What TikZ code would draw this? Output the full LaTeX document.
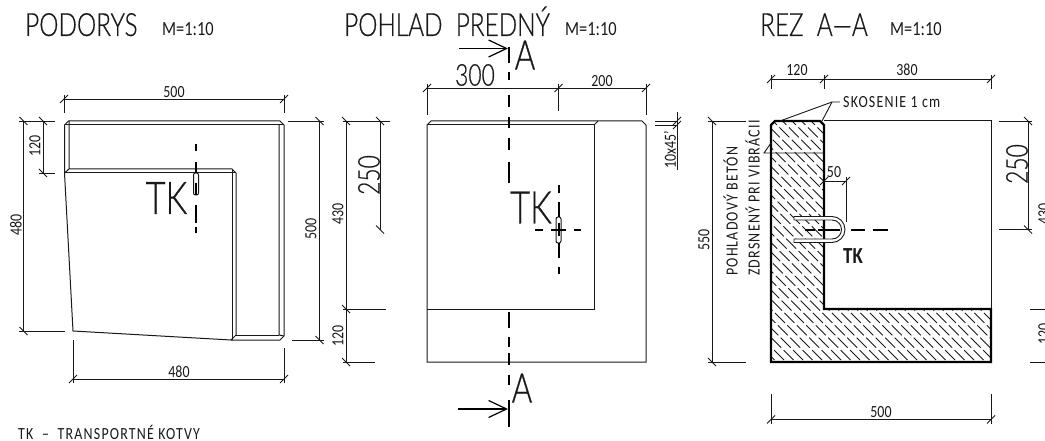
\documentclass[tikz,border=0pt]{standalone}
\usepackage{fontspec}
\usepackage{tikz}
\usetikzlibrary{arrows.meta}
\setmainfont[FakeStretch=0.82]{Carlito}
\newfontfamily\lightfont[FakeStretch=0.76,FakeBold=0.5]{Lato Light}
\newfontfamily\notefont[FakeStretch=0.82,LetterSpace=7]{Carlito}
\newcommand{\sz}[1]{\fontsize{#1}{#1}\selectfont}

\begin{document}
\begin{tikzpicture}[x=1pt,y=-1pt,line join=miter]
            \tikzstyle{thinline}=[draw=black!90,line width=0.9pt]
            \tikzstyle{outline}=[draw=black!90,line width=1pt]
            \tikzstyle{cutline}=[draw=black,line width=2.2pt]
            \tikzstyle{axisline}=[draw=black,line width=2pt]
            \tikzstyle{hatchline}=[draw=black!90,line width=0.8pt,dash pattern=on 14pt off 3.5pt]
            \tikzstyle{cutarrow}=[draw=black,line width=1.2pt,-{Straight Barb[length=18pt,width=17pt]}]
            \tikzstyle{label}=[inner sep=0pt,text=black!90]
            \tikzstyle{dimtext}=[label,font=\sz{17}]
            \tikzstyle{bigdim}=[label,font=\lightfont\sz{30}]
            \tikzstyle{tktext}=[label,font=\lightfont\sz{45}]
            \tikzstyle{cuttext}=[label,font=\lightfont\sz{41}]
            \tikzstyle{title}=[label,anchor=base west,font=\lightfont\sz{32}]
            \tikzstyle{scaletext}=[label,anchor=base west,font=\sz{20}]
            \tikzstyle{notetext}=[label,anchor=base west,font=\notefont\sz{17}]

                \clip (0,0) rectangle (1045,441);

                % titles
                \node[title] (T-1) at (25,36){PODORYS};
                \node[scaletext] (M-1) at (162,36){M=1:10};
                \node[title] (T-2) at (344,36){POHLAD\ \ PREDNÝ};
                \node[scaletext] (M-2) at (565,36){M=1:10};
                \node[title] (T-3) at (760,36){REZ\ \ A—A};
                \node[scaletext] (M-3) at (890,36){M=1:10};
                \node[notetext] (N-1) at (18,439){TK\ \ –\ \ TRANSPORTNÉ KOTVY};

                % podorys
                \draw[outline] (64.5,125) -- (68.5,121) -- (280,121) -- (284,125) -- (284,336) -- (280,340) -- (231,340) -- (73,331) -- (64.5,173) -- cycle;
                \draw[outline] (64.5,125) -- (284,125);
                \draw[outline] (69,121) -- (69,169) -- (232,169) -- (236,173) -- (236,335) -- (231,340);
                \draw[outline] (64.5,173) -- (69,169);
                \draw[outline] (64.5,173) -- (236,173);
                \draw[outline] (232,169) -- (232,340);
                \draw[outline] (279,125) -- (279,335) -- (284,336);
                \draw[outline] (236,335) -- (279,335);

                % kotva v podoryse
                \draw[outline,fill=white,rounded corners=2pt] (193.5,173) rectangle (198.5,195);
                \foreach \from/\to in {144/151, 162/173, 183/195, 205/223, 227/233}
                    \draw[axisline] (196,\from) -- (196,\to);
                \node[tktext] (TK-1) at (166.5,198){TK};

                % kotovanie podorys
                \draw[thinline] (64,99) -- (284,99);
                \draw[thinline] (73,379) -- (284,379);
                \draw[thinline] (23.5,121) -- (23.5,331);
                \draw[thinline] (43,121) -- (43,173);
                \draw[thinline] (319.5,121) -- (319.5,340);
                \foreach \a/\b in {64/95, 284/95}
                    \draw[thinline] (\a,\b) -- (\a,113);
                \draw[thinline] (73,340) -- (73,383);
                \draw[thinline] (284,348) -- (284,383);
                \draw[thinline] (19,121) -- (55,121);
                \draw[thinline] (39,173) -- (55,173);
                \draw[thinline] (19,331) -- (65,331);
                \draw[thinline] (288,121) -- (324,121);
                \draw[thinline] (292,340) -- (324,340);
                \foreach \a/\b in {64/99, 284/99, 73/379, 284/379}
                    \draw[thinline] (\a-4,\b+4) -- (\a+4,\b-4);
                \foreach \a/\b in {23.5/121, 23.5/331, 43/121, 43/173, 319.5/121, 319.5/340}
                    \draw[thinline] (\a-4,\b-4) -- (\a+4,\b+4);
                \node[dimtext] (D-1) at (174,92){500};
                \node[dimtext] (D-2) at (179,372){480};
                \node[dimtext,rotate=90] (D-3) at (16,225){480};
                \node[dimtext,rotate=90] (D-4) at (35,146){120};
                \node[dimtext,rotate=90] (D-5) at (311,229){500};

                % pohlad
                \draw[outline] (427,125) -- (431,121) -- (642,121) -- (646,125) -- (646,362) -- (427,362) -- cycle;
                \draw[outline] (427,125) -- (594,125) -- (594,309) -- (427,309);
                \draw[outline] (594,125) -- (598,121);

                % rezova rovina
                \foreach \from/\to in {47/63, 72/80, 95/107, 117/128, 138/150, 162/183, 312/328, 337/347, 353/365, 375/385, 400/427}
                    \draw[axisline] (508.5,\from) -- (508.5,\to);
                \coordinate (A-1) at (508,48.5);
                \coordinate (A-2) at (508,409);
                \draw[cutarrow] (459,48.5) -- (A-1);
                \draw[cutarrow] (458,409) -- (A-2);
                \node[cuttext] (C-1) at (525,55){A};
                \node[cuttext] (C-2) at (522,388){A};

                % kotva v pohlade
                \draw[outline,fill=white,rounded corners=2pt] (556,217) rectangle (561,243);
                \foreach \from/\to in {185/193, 202/217, 223/236, 243/258, 267/274}
                    \draw[axisline] (558.5,\from) -- (558.5,\to);
                \foreach \from/\to in {535/543, 551/566, 574/581}
                    \draw[axisline] (\from,229.5) -- (\to,229.5);
                \node[tktext] (TK-2) at (531,207.5){TK};

                % kotovanie pohlad
                \draw[thinline] (427,88) -- (646,88);
                \draw[thinline] (346,121) -- (346,362);
                \draw[thinline] (380,121) -- (380,229.5);
                \foreach \a/\b in {427/115, 558.5/111, 646/115}
                    \draw[thinline] (\a,84) -- (\a,\b);
                \draw[thinline] (343,121) -- (390,121);
                \draw[thinline] (343,309) -- (386,309);
                \draw[thinline] (343,362) -- (375,362);
                \draw[thinline] (655,121) -- (678,121);
                \draw[thinline] (655,125) -- (678,125);
                \draw[thinline] (677,112) -- (677,170);
                \foreach \a/\b in {427/88, 558.5/88, 646/88, 677/121, 677/125}
                    \draw[thinline] (\a-4,\b+4) -- (\a+4,\b-4);
                \foreach \a/\b in {346/121, 346/309, 346/362, 380/121, 380/229.5}
                    \draw[thinline] (\a-4,\b-4) -- (\a+4,\b+4);
                \node[dimtext,rotate=90] (D-6) at (338,214){430};
                \node[dimtext,rotate=90] (D-7) at (338,336){120};
                \node[bigdim,rotate=90] (D-8) at (369,175){250};
                \node[bigdim] (D-9) at (475,75){300};
                \node[dimtext] (D-10) at (602,81){200};
                \node[dimtext,rotate=90] (D-11) at (670,150){10x45'};

                % rez
                \begin{scope}
                    \clip (771,125) -- (775,121) -- (820,121) -- (824,125) -- (824,309) -- (991,309) -- (991,362) -- (771,362) -- cycle;
                    \foreach \h in {520,529.5,...,1000}
                        \draw[hatchline] (\h,115) -- (\h+250,365);
                \end{scope}
                \draw[outline] (824,121) -- (991,121) -- (991,309);
                \draw[cutline] (771,125) -- (775,121) -- (820,121) -- (824,125) -- (824,309) -- (991,309) -- (991,362) -- (771,362) -- cycle;
                \draw[thinline] (771,143) -- (764,153) -- (824,153);
                \draw[thinline] (780,121) -- (832,102) -- (840,102);
                \draw[thinline] (822,121) -- (832,102);
                \node[notetext] (N-2) at (843,107.5){SKOSENIE 1 cm};

                % kotva v reze
                \draw[thinline,fill=white] (794,216.5) -- (832,216.5) arc (-90:90:13) -- (794,242.5) -- (794,239) -- (832,239) arc (90:-90:9.5) -- (794,220) -- cycle;
                \foreach \from/\to in {805/815, 818/840, 851/865, 873/888}
                    \draw[axisline] (\from,229.5) -- (\to,229.5);
                \node[label,font=\bfseries\sz{23}] (TK-3) at (853,256){TK};

                % kotovanie rez
                \draw[thinline] (771,79) -- (991,79);
                \draw[thinline] (771,419.5) -- (991,419.5);
                \draw[thinline] (712,121) -- (712,362);
                \draw[thinline] (1028,121) -- (1028,229.5);
                \draw[thinline] (824,181) -- (846,181);
                \draw[thinline] (846,177) -- (846,222);
                \foreach \a in {771, 824, 991}
                    \draw[thinline] (\a,75) -- (\a,89);
                \foreach \a in {771, 991}
                    \draw[thinline] (\a,394) -- (\a,424);
                \draw[thinline] (708,121) -- (746,121);
                \draw[thinline] (708,362) -- (746,362);
                \draw[thinline] (999,121) -- (1032,121);
                \draw[thinline] (999,229.5) -- (1032,229.5);
                \draw[thinline] (1030,309) -- (1045,309);
                \draw[thinline] (1030,362) -- (1045,362);
                \foreach \a/\b in {771/79, 824/79, 991/79, 771/419.5, 991/419.5, 824/181, 846/181}
                    \draw[thinline] (\a-4,\b+4) -- (\a+4,\b-4);
                \foreach \a/\b in {712/121, 712/362, 1028/121, 1028/229.5}
                    \draw[thinline] (\a-4,\b-4) -- (\a+4,\b+4);
                \node[dimtext] (D-12) at (797,70){120};
                \node[dimtext] (D-13) at (907,70){380};
                \node[dimtext] (D-14) at (881,412){500};
                \node[dimtext] (D-15) at (834,172){50};
                \node[dimtext,rotate=90] (D-16) at (704,240){550};
                \node[bigdim,rotate=90] (D-17) at (1017,164){250};
                \node[dimtext,rotate=90] (D-18) at (1044,214){430};
                \node[dimtext,rotate=90] (D-19) at (1044,334){120};
                \node[notetext,rotate=90] (N-3) at (737.5,276){POHLADOVÝ BETÓN};
                \node[notetext,rotate=90] (N-4) at (759.5,276){ZDRSNENÝ PRI VIBRÁCII};
        \end{tikzpicture}
\end{document}
